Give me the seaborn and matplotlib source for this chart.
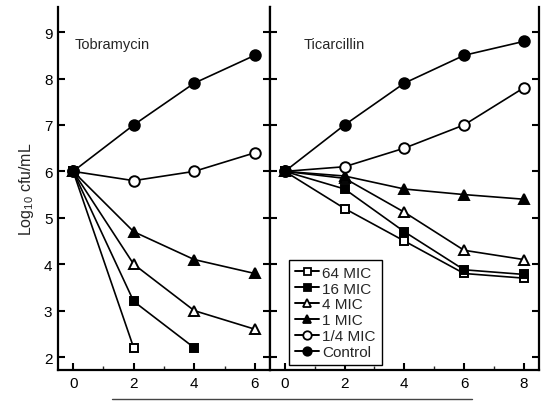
import matplotlib
matplotlib.use('Agg')
import matplotlib.pyplot as plt
import seaborn as sns
from matplotlib.lines import Line2D
from matplotlib.ticker import MultipleLocator

# Data (log10 cfu/mL over time, h)
tobra_time = [0, 2, 4, 6]
tobra_64 = [6.0, 2.2]
tobra_16 = [6.0, 3.2, 2.2]
tobra_4 = [6.0, 4.0, 3.0, 2.6]
tobra_1 = [6.0, 4.7, 4.1, 3.8]
tobra_q = [6.0, 5.8, 6.0, 6.4]
tobra_ctrl = [6.0, 7.0, 7.9, 8.5]

ticar_time = [0, 2, 4, 6, 8]
ticar_64 = [6.0, 5.2, 4.5, 3.8, 3.7]
ticar_16 = [6.0, 5.62, 4.7, 3.88, 3.78]
ticar_4 = [6.0, 5.85, 5.12, 4.3, 4.1]
ticar_1 = [6.0, 5.9, 5.62, 5.5, 5.4]
ticar_q = [6.0, 6.1, 6.5, 7.0, 7.8]
ticar_ctrl = [6.0, 7.0, 7.9, 8.5, 8.8]

series_labels = ['64 MIC', '16 MIC', '4 MIC', '1 MIC', '1/4 MIC', 'Control']
series_markers = ['s', 's', '^', '^', 'o', 'o']
series_filled = [False, True, False, True, False, True]
series_sizes = [6.3, 6.3, 7.6, 7.6, 7.6, 7.6]

sns.set_style('ticks')
plt.rcParams['font.family'] = ['Liberation Sans', 'DejaVu Sans']
plt.rcParams['mathtext.fontset'] = 'custom'
plt.rcParams['mathtext.rm'] = 'Liberation Sans'

fig = plt.figure(figsize=(5.42, 4.02), dpi=100)
ax1 = fig.add_axes([0.107, 0.077, 0.391, 0.903])
ax2 = fig.add_axes([0.498, 0.077, 0.496, 0.903])


def draw(ax, time, values):
    for vals, lab, m, filled, ms in zip(values, series_labels, series_markers,
                                         series_filled, series_sizes):
        sns.lineplot(x=time[:len(vals)], y=vals, ax=ax, color='black',
                     linewidth=1.2, marker=m, markersize=ms,
                     markerfacecolor='black' if filled else 'white',
                     markeredgecolor='black', markeredgewidth=1.4,
                     label=lab, legend=False)


draw(ax1, tobra_time, [tobra_64, tobra_16, tobra_4, tobra_1, tobra_q, tobra_ctrl])
draw(ax2, ticar_time, [ticar_64, ticar_16, ticar_4, ticar_1, ticar_q, ticar_ctrl])

for ax, xmax in [(ax1, 6.5), (ax2, 8.5)]:
    ax.set_xlim(-0.5, xmax)
    ax.set_ylim(1.72, 9.54)
    ax.xaxis.set_major_locator(MultipleLocator(2))
    ax.xaxis.set_minor_locator(MultipleLocator(1))
    ax.yaxis.set_major_locator(MultipleLocator(1))
    ax.spines['top'].set_visible(False)
    for s in ['left', 'right', 'bottom']:
        ax.spines[s].set_visible(True)
        ax.spines[s].set_linewidth(1.6)
        ax.spines[s].set_color('black')
    ax.tick_params(axis='both', which='major', direction='in', length=5,
                   width=1.5, labelsize=11, colors='black', pad=4)
    ax.tick_params(axis='x', which='minor', direction='in', length=3,
                   width=1.0, top=False)
    ax.tick_params(axis='y', which='both', left=True, right=True)
    ax.tick_params(axis='x', which='both', top=False)
    ax.set_xlabel('')
    ax.set_ylabel('')

ax2.tick_params(axis='y', labelleft=False)
ax1.set_ylabel(r'Log$_{\mathregular{10}}$ cfu/mL', fontsize=11.5, labelpad=6)

ax1.text(0.05, 8.74, 'Tobramycin', fontsize=10.5, va='center', ha='left')
ax2.text(0.64, 8.74, 'Ticarcillin', fontsize=10.5, va='center', ha='left')

handles = [Line2D([], [], color='black', linewidth=1.4, marker=m,
                  markersize=ms * 0.8,
                  markerfacecolor='black' if f else 'white',
                  markeredgecolor='black', markeredgewidth=1.3)
           for m, f, ms in zip(series_markers, series_filled, series_sizes)]
leg = ax2.legend(handles, series_labels, loc='lower left',
                 bbox_to_anchor=(0.07, 0.014), fontsize=11, frameon=True,
                 fancybox=False, edgecolor='black', framealpha=1,
                 handlelength=1.6, handletextpad=0.2, labelspacing=0.12,
                 borderpad=0.4, borderaxespad=0)
leg.get_frame().set_linewidth(1.0)

fig.add_artist(Line2D([0.207, 0.871], [0.006, 0.006], color='#444444',
                      linewidth=1.0, transform=fig.transFigure))

fig.savefig('out.png', dpi=100)
